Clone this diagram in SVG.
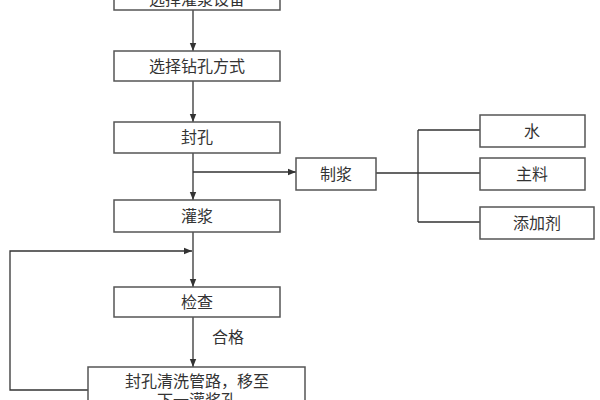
<svg xmlns="http://www.w3.org/2000/svg" width="600" height="400" viewBox="0 0 600 400">
<style>
.b{fill:#fff;stroke:#555;stroke-width:1.5}
.t{font-family:"Liberation Serif","Noto Sans CJK SC",serif;font-size:16px;fill:#333;text-anchor:middle}
.l{fill:none;stroke:#333;stroke-width:1.3}
</style>
<defs><marker id="a" viewBox="0 0 10 10" refX="10" refY="5" markerWidth="8" markerHeight="8" orient="auto" markerUnits="userSpaceOnUse"><path d="M0,1L10,5L0,9z" fill="#333"/></marker></defs>
<rect width="600" height="400" fill="#fff"/>
<g id="connectors">
<path class="l" d="M193,10V51" marker-end="url(#a)"/>
<path class="l" d="M193,81V122" marker-end="url(#a)"/>
<path class="l" d="M193,153V200" marker-end="url(#a)"/>
<path class="l" d="M193,172H296" marker-end="url(#a)"/>
<path class="l" d="M376,173H480M418,130V222M418,130H480M418,222H480"/>
<path class="l" d="M193,232V287" marker-end="url(#a)"/>
<path class="l" d="M88,390H10V251H192" marker-end="url(#a)"/>
<path class="l" d="M193,317V367" marker-end="url(#a)"/>
</g>
<g id="n1"><rect class="b" x="114" y="-20" width="166" height="30"/><text class="t" x="197" y="5">选择灌浆设备</text></g>
<g id="n2"><rect class="b" x="114" y="51" width="166" height="30"/><text class="t" x="197" y="72">选择钻孔方式</text></g>
<g id="n3"><rect class="b" x="114" y="122" width="166" height="31"/><text class="t" x="197" y="143">封孔</text></g>
<g id="n4"><rect class="b" x="296" y="158" width="80" height="32"/><text class="t" x="336" y="180">制浆</text></g>
<g id="n5"><rect class="b" x="480" y="115" width="105" height="32"/><text class="t" x="532" y="137">水</text></g>
<g id="n6"><rect class="b" x="480" y="158" width="105" height="32"/><text class="t" x="532" y="180">主料</text></g>
<g id="n7"><rect class="b" x="480" y="207" width="114" height="32"/><text class="t" x="537" y="229">添加剂</text></g>
<g id="n8"><rect class="b" x="114" y="200" width="166" height="32"/><text class="t" x="197" y="222">灌浆</text></g>
<g id="n9"><rect class="b" x="114" y="287" width="166" height="30"/><text class="t" x="197" y="308">检查</text></g>
<text class="t" x="228" y="343">合格</text>
<g id="n10"><rect class="b" x="88" y="367" width="217" height="45"/><text class="t" x="197" y="387">封孔清洗管路，移至</text><text class="t" x="197" y="406">下一灌浆孔</text></g>
</svg>
